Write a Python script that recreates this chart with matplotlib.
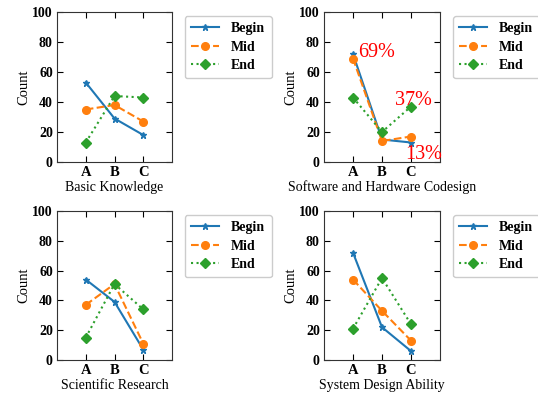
import matplotlib
matplotlib.use("Agg")
import matplotlib.pyplot as plt

categories = ["A", "B", "C"]
series_names = ["Begin", "Mid", "End"]
titles = ["Basic Knowledge", "Software and Hardware Codesign",
          "Scientific Research", "System Design Ability"]

basic_begin = [53, 29, 18]
basic_mid = [35, 38, 27]
basic_end = [13, 44, 43]

soft_begin = [72, 15, 13]
soft_mid = [69, 14, 17]
soft_end = [43, 20, 37]

sci_begin = [54, 39, 7]
sci_mid = [37, 51, 11]
sci_end = [15, 51, 34]

sys_begin = [72, 22, 6]
sys_mid = [54, 33, 13]
sys_end = [21, 55, 24]

panel_data = [
    (basic_begin, basic_mid, basic_end),
    (soft_begin, soft_mid, soft_end),
    (sci_begin, sci_mid, sci_end),
    (sys_begin, sys_mid, sys_end),
]

annot_texts = ["69%", "37%", "13%"]
annot_pos = [(0.18, 73), (1.45, 41), (1.8, 5)]

plt.rcParams['font.family'] = ['Liberation Serif', 'DejaVu Serif']

fig = plt.figure(figsize=(5.38, 3.96), dpi=100)
W, H = 538, 396
rects = [(57, 12, 115, 150), (324, 12, 116, 150),
         (57, 211, 115, 149), (324, 211, 116, 149)]

colors = ["#1f77b4", "#ff7f0e", "#2ca02c"]
styles = ["-", "--", ":"]
markers = ["*", "o", "D"]
msizes = [5, 5.5, 5]

x = list(range(len(categories)))
for i, (l, t, w, h) in enumerate(rects):
    ax = fig.add_axes([l / W, (H - t - h) / H, w / W, h / H])
    for j, vals in enumerate(panel_data[i]):
        ax.plot(x, vals, color=colors[j], linestyle=styles[j], marker=markers[j],
                markersize=msizes[j], linewidth=1.5, label=series_names[j])
    ax.set_xlim(-1, 3)
    ax.set_ylim(0, 100)
    ax.set_xticks(x)
    ax.set_xticklabels(categories, fontweight='bold', fontsize=10.5)
    ax.set_yticks([0, 20, 40, 60, 80, 100])
    ax.set_yticklabels(["0", "20", "40", "60", "80", "100"], fontweight='bold', fontsize=10)
    ax.tick_params(direction='in', top=True, right=True, length=4, width=0.8, pad=3)
    for s in ax.spines.values():
        s.set_color('#333333')
        s.set_linewidth(0.8)
    ax.set_ylabel("Count", fontsize=10.5, labelpad=1)
    ax.set_xlabel(titles[i], fontsize=10, labelpad=1)
    leg = ax.legend(loc='upper left', bbox_to_anchor=(1.11, 0.975), borderaxespad=0,
                    prop={'weight': 'bold', 'size': 10}, handlelength=2.0,
                    labelspacing=0.4, borderpad=0.45, handletextpad=0.9,
                    fancybox=True, framealpha=1)
    leg.get_frame().set_edgecolor('#cccccc')
    if i == 1:
        for txt, (px, py) in zip(annot_texts, annot_pos):
            ax.text(px, py, txt, color='red', fontsize=14.5, va='center', ha='left')

fig.savefig("out.png", dpi=100)
